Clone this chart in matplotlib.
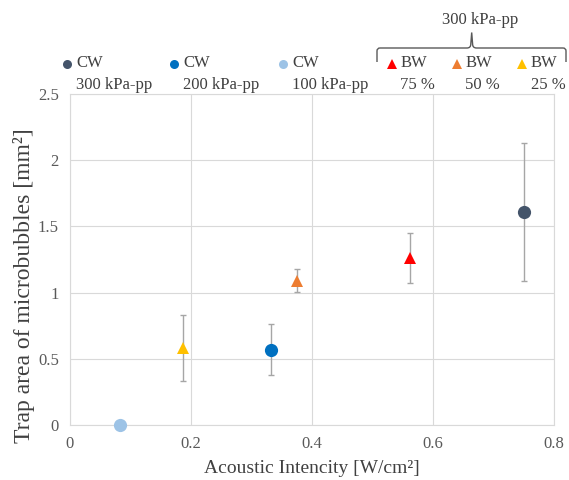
import matplotlib
matplotlib.use("Agg")
import matplotlib.pyplot as plt
from matplotlib.lines import Line2D
from matplotlib.path import Path
from matplotlib.patches import PathPatch
import matplotlib.transforms as mtransforms

plt.rcParams['font.family'] = ['Liberation Serif', 'DejaVu Serif']

# Continuous wave (CW) at three pressures
cw_labels = ["300 kPa-pp", "200 kPa-pp", "100 kPa-pp"]
cw_intensity = [0.75, 0.333, 0.083]
cw_area = [1.61, 0.57, 0.0]
cw_err = [0.52, 0.195, 0.0]
cw_colors = ["#44546A", "#0070C0", "#9DC3E6"]

# Burst wave (BW) at 300 kPa-pp, three duty ratios
bw_labels = ["75 %", "50 %", "25 %"]
bw_intensity = [0.5625, 0.375, 0.1875]
bw_area = [1.26, 1.09, 0.58]
bw_err = [0.19, 0.085, 0.25]
bw_colors = ["#FF0000", "#ED7D31", "#FFC000"]

x_ticks = [0, 0.2, 0.4, 0.6, 0.8]
y_ticks = [0, 0.5, 1, 1.5, 2, 2.5]

W, H = 569, 480
fig = plt.figure(figsize=(W / 100, H / 100), dpi=100)
ax = fig.add_axes([70 / W, 1 - 425 / H, (554 - 70) / W, (425 - 94) / H])

grid_c = "#D9D9D9"
err_c = "#A6A6A6"
text_c = "#404040"
tick_c = "#595959"

for x, y, e, c in zip(cw_intensity, cw_area, cw_err, cw_colors):
    if e > 0:
        ax.errorbar(x, y, yerr=e, fmt="none", ecolor=err_c, elinewidth=1.0,
                    capsize=2.2, capthick=1.0, zorder=2)
    ax.plot(x, y, "o", color=c, markersize=9.5, markeredgewidth=0, zorder=3,
            clip_on=False)
for x, y, e, c in zip(bw_intensity, bw_area, bw_err, bw_colors):
    if e > 0:
        ax.errorbar(x, y, yerr=e, fmt="none", ecolor=err_c, elinewidth=1.0,
                    capsize=2.2, capthick=1.0, zorder=2)
    ax.plot(x, y, "^", color=c, markersize=9, markeredgewidth=0, zorder=3)

ax.set_xlim(0, 0.8)
ax.set_ylim(0, 2.5)
ax.set_xticks(x_ticks)
ax.set_xticklabels([f"{v:g}" for v in x_ticks])
ax.set_yticks(y_ticks)
ax.set_yticklabels([f"{v:g}" for v in y_ticks])
ax.grid(True, color=grid_c, linewidth=0.8)
ax.set_axisbelow(True)
for s in ax.spines.values():
    s.set_color(grid_c)
    s.set_linewidth(0.8)
ax.tick_params(length=0, labelsize=12, colors=tick_c, pad=8)
ax.set_xlabel("Acoustic Intencity [W/cm²]", fontsize=14, color=text_c, labelpad=6)

# pixel coordinates (origin top-left) -> figure
px = mtransforms.Affine2D().scale(1 / W, -1 / H).translate(0, 1) + fig.transFigure

fig.text(24, 286, "Trap area of microbubbles [mm²]", transform=px, fontsize=17,
         color=text_c, rotation=90, ha="center", va="center")

# legend keys
cw_mx = [67, 174.5, 283.5]
for mx, lab, c in zip(cw_mx, cw_labels, cw_colors):
    fig.add_artist(Line2D([mx], [64], marker="o", color=c, markersize=6.5,
                          markeredgewidth=0, linestyle="none", transform=px))
    fig.text(mx + 9, 63, "CW", transform=px, fontsize=12, color=text_c,
             ha="left", va="center")
    fig.text(mx + 9, 85, lab, transform=px, fontsize=12, color=text_c,
             ha="left", va="center")

bw_mx = [391.7, 456.7, 522.3]
for mx, lab, c in zip(bw_mx, bw_labels, bw_colors):
    fig.add_artist(Line2D([mx], [63.5], marker="^", color=c, markersize=6.5,
                          markeredgewidth=0, linestyle="none", transform=px))
    fig.text(mx + 8.5, 63, "BW", transform=px, fontsize=12, color=text_c,
             ha="left", va="center")
    fig.text(mx + 8.5, 85, lab, transform=px, fontsize=12, color=text_c,
             ha="left", va="center")

# curly bracket grouping the BW series
verts = [(377, 62), (377, 51), (377, 48), (380, 48), (467, 48),
         (470.8, 48), (470.8, 44), (471.7, 32.5), (472.6, 44), (472.6, 48),
         (476.5, 48), (563, 48), (566, 48), (566, 51), (566, 62)]
codes = [Path.MOVETO, Path.LINETO, Path.CURVE3, Path.CURVE3, Path.LINETO,
         Path.CURVE3, Path.CURVE3, Path.LINETO, Path.LINETO, Path.CURVE3,
         Path.CURVE3, Path.LINETO, Path.CURVE3, Path.CURVE3, Path.LINETO]
fig.add_artist(PathPatch(Path(verts, codes), facecolor="none",
                         edgecolor="#595959", linewidth=1.0, transform=px))
fig.text(480, 20, "300 kPa-pp", transform=px, fontsize=12, color=text_c,
         ha="center", va="center")

fig.savefig("out.png", dpi=100)
